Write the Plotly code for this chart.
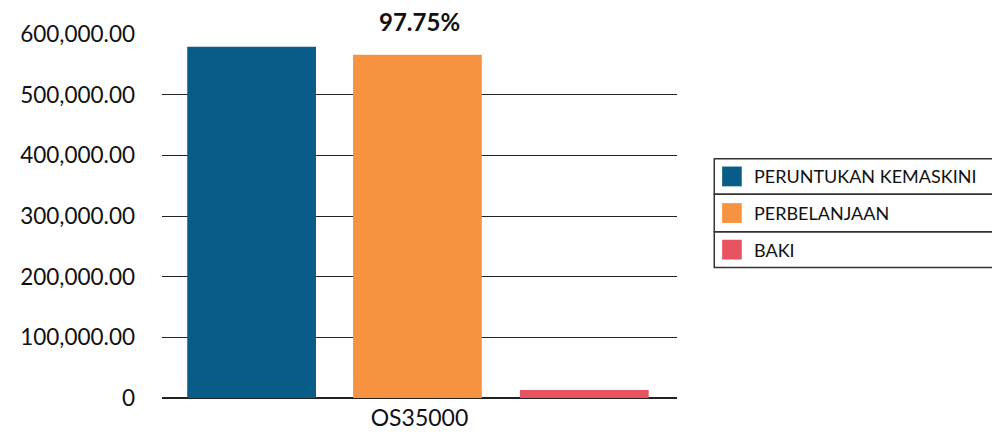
import plotly.graph_objects as go

category = ["OS35000"]
series_names = ["PERUNTUKAN KEMASKINI", "PERBELANJAAN", "BAKI"]
series_values = [[579000], [566000], [13000]]
series_colors = ["#075D87", "#F79240", "#E85361"]
tick_vals = [0, 100000, 200000, 300000, 400000, 500000, 600000]
tick_text = ["0", "100,000.00", "200,000.00", "300,000.00", "400,000.00", "500,000.00", "600,000.00"]
pct_label = "97.75%"

FONT = "Lato"
bar_width = 0.25
bar_offsets = [-0.451, -0.129, 0.195]

fig = go.Figure()
for name, vals, col, off in zip(series_names, series_values, series_colors, bar_offsets):
    fig.add_trace(go.Bar(x=category, y=vals, name=name, marker=dict(color=col, line=dict(width=0)),
                         width=bar_width, offset=off, showlegend=False))

fig.update_layout(
    width=1000, height=435,
    margin=dict(l=144, r=331, t=23, b=44),
    paper_bgcolor="white", plot_bgcolor="white",
    barmode="overlay",
    font=dict(family=FONT, color="#111111", size=22),
    xaxis=dict(showgrid=False, showline=False, ticks="", tickfont=dict(size=23), range=[-0.5, 0.5],
               ticklabelstandoff=4),
    yaxis=dict(range=[0, 600000], tickvals=tick_vals, ticktext=tick_text, showgrid=True,
               gridcolor="#222222", gridwidth=1.3, zeroline=True, zerolinecolor="#222222", zerolinewidth=1.5,
               showline=False, ticks="", ticklabelstandoff=26, tickfont=dict(size=22.5)),
)

fig.add_annotation(x=category[0], y=600000, xref="x", yref="y", text="<b>" + pct_label + "</b>",
                   showarrow=False, yanchor="middle", yshift=13, font=dict(size=24, family=FONT, color="#111111"))

# custom legend box (table style); positions in screen px relative to plot area (152..677, 31..399)
rows = [(157, 193), (193, 231), (231, 267)]
def fx(x):
    return (x - 152) / 525
def fy(y):
    return (399 - y) / 368
for (t, b), name, col in zip(rows, series_names, series_colors):
    fig.add_shape(type="rect", xref="paper", yref="paper",
                  x0=fx(715), x1=fx(1010), y0=fy(b), y1=fy(t),
                  line=dict(color="#333333", width=1.5), fillcolor="rgba(0,0,0,0)")
    cy = (t + b) / 2
    fig.add_shape(type="rect", xref="paper", yref="paper",
                  x0=fx(723), x1=fx(743), y0=fy(cy + 10), y1=fy(cy - 10),
                  line=dict(width=0), fillcolor=col)
    fig.add_annotation(xref="paper", yref="paper", x=fx(753), y=fy(cy),
                       text=name, showarrow=False, xanchor="left", yanchor="middle",
                       font=dict(size=18, family=FONT, color="#111111"))

fig.write_html("out.html")
